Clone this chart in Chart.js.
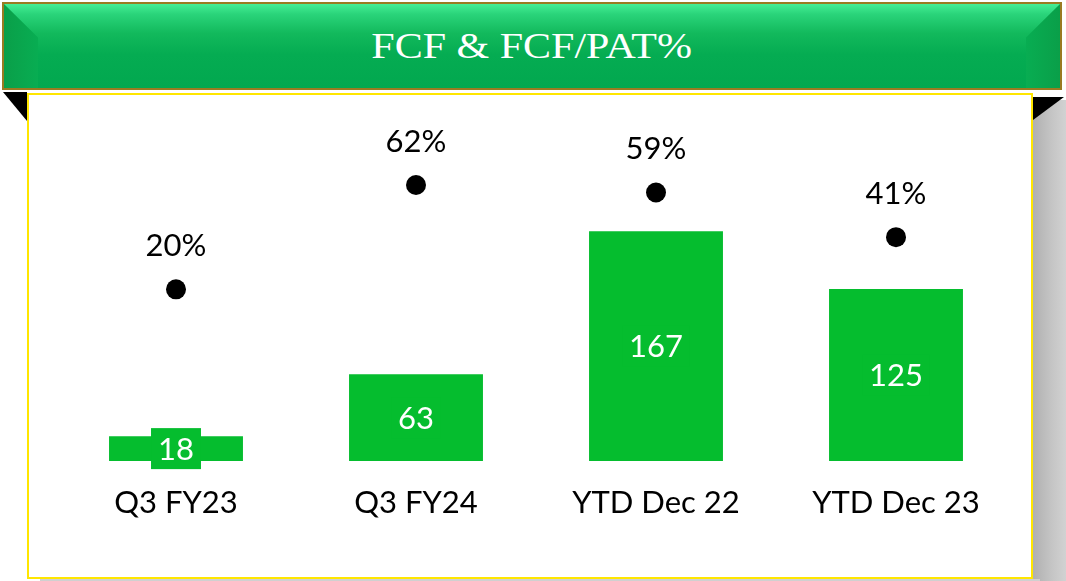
<!DOCTYPE html>
<html>
<head>
<meta charset="utf-8">
<script src="https://cdn.jsdelivr.net/npm/chart.js@4.4.0/dist/chart.umd.min.js"></script>
<style>
  html, body { margin: 0; padding: 0; background: #fff; }
  body { width: 1066px; height: 581px; position: relative; overflow: hidden; }
  #shadow {
    position: absolute; left: 1033px; top: 100px; width: 33px; height: 481px;
    background: linear-gradient(to right, #b0b0b0, #c6c6c6 60%, #d2d2d2);
  }
  #shadowBottom {
    position: absolute; left: 40px; top: 579px; width: 1000px; height: 2px;
    background: #d0d0d0;
  }
  #box {
    position: absolute; left: 27px; top: 93px; width: 1002px; height: 482px;
    border: 2px solid #ffe600; background: #fff;
  }
  #triL {
    position: absolute; left: 3px; top: 92px; width: 24px; height: 29px;
    background: #000; clip-path: polygon(0 0, 100% 0, 100% 100%);
  }
  #triR {
    position: absolute; left: 1033px; top: 97px; width: 31px; height: 23px;
    background: #000; clip-path: polygon(0 0, 100% 0, 0 100%);
  }
  #banner {
    position: absolute; left: 2px; top: 2px; width: 1056px; height: 84px;
    border: 2px solid #9a7b22;
    background: linear-gradient(to bottom, #46ee95 0%, #2ad47a 12%, #12b95c 35%, #05ac52 60%, #02a84f 100%);
    overflow: hidden;
  }
  #bevL {
    position: absolute; left: 0; top: 0; width: 34px; height: 84px;
    background: linear-gradient(to right, #0a9f49, #08ad52);
    clip-path: polygon(0 0, 100% 40%, 100% 100%, 0 100%);
  }
  #bevR {
    position: absolute; right: 0; top: 0; width: 34px; height: 84px;
    background: linear-gradient(to left, #0a9f49, #08ad52);
    clip-path: polygon(100% 0, 0 40%, 0 100%, 100% 100%);
  }
  #title {
    position: absolute; left: 0; top: 0; width: 1056px; height: 84px;
    line-height: 86px; text-align: center; color: #fff;
    font-family: "Liberation Serif", "Times New Roman", serif; font-size: 35px;
  }
  #title span { display: inline-block; transform: scaleX(1.2); }
  #chart { position: absolute; left: 0; top: 0; }
</style>
</head>
<body>
<div id="shadow"></div>
<div id="shadowBottom"></div>
<div id="triL"></div>
<div id="triR"></div>
<div id="box"></div>
<div id="banner"><div id="bevL"></div><div id="bevR"></div><div id="title"><span>FCF &amp; FCF/PAT%</span></div></div>
<canvas id="chart" width="1066" height="581"></canvas>
<script>
var categories = ["Q3 FY23", "Q3 FY24", "YTD Dec 22", "YTD Dec 23"];
var fcfValues = [18, 63, 167, 125];
var fcfPatPct = [20, 62, 59, 41];

var barGreen = "#05bd2e";
var labelFont = "31px Lato, 'Noto Sans', sans-serif";

var labelPlugin = {
    id: 'valueLabels',
    afterDatasetsDraw: function(chart) {
        var ctx = chart.ctx;
        ctx.save();
        ctx.font = labelFont;
        ctx.textAlign = 'center';
        ctx.textBaseline = 'middle';

        var bars = chart.getDatasetMeta(0).data;
        for (var i = 0; i < bars.length; i++) {
            var b = bars[i];
            var cy = (b.y + b.base) / 2;
            var txt = String(fcfValues[i]);
            var w = ctx.measureText(txt).width + 14;
            ctx.fillStyle = barGreen;
            ctx.fillRect(b.x - w / 2, cy - 20.5, w, 41);
            ctx.fillStyle = "#ffffff";
            ctx.fillText(txt, b.x, cy + 1);
        }

        var pts = chart.getDatasetMeta(1).data;
        ctx.fillStyle = "#000000";
        for (var j = 0; j < pts.length; j++) {
            ctx.fillText(fcfPatPct[j] + "%", pts[j].x, pts[j].y - 43);
        }
        ctx.restore();
    }
};

var options = {
    data: {
        labels: categories,
        datasets: [{
            type: 'bar',
            label: 'FCF',
            data: fcfValues,
            backgroundColor: barGreen,
            yAxisID: 'y',
            barPercentage: 0.558,
            categoryPercentage: 1,
            order: 2
        }, {
            type: 'line',
            label: 'FCF/PAT%',
            data: fcfPatPct,
            showLine: false,
            pointRadius: 10,
            pointHoverRadius: 10,
            pointBackgroundColor: "#000",
            pointBorderColor: "#000",
            pointBorderWidth: 0,
            yAxisID: 'y1',
            order: 1
        }]
    },
    options: {
        responsive: false,
        animation: false,
        layout: { padding: { left: 56, right: 50, top: 130, bottom: 0 } },
        plugins: {
            legend: { display: false },
            tooltip: { enabled: false }
        },
        scales: {
            x: {
                grid: { display: false, drawTicks: false },
                border: { display: false },
                ticks: {
                    color: "#000",
                    padding: 23,
                    font: { family: "Lato, 'Noto Sans', sans-serif", size: 31 }
                },
                afterFit: function(scale) { scale.height = 120; }
            },
            y: {
                display: false,
                min: 0,
                max: 240.5
            },
            y1: {
                display: false,
                min: -49.15,
                max: 84.16
            }
        }
    },
    plugins: [labelPlugin]
};

var fcfChart = new Chart(document.getElementById("chart"), options);
</script>
</body>
</html>
